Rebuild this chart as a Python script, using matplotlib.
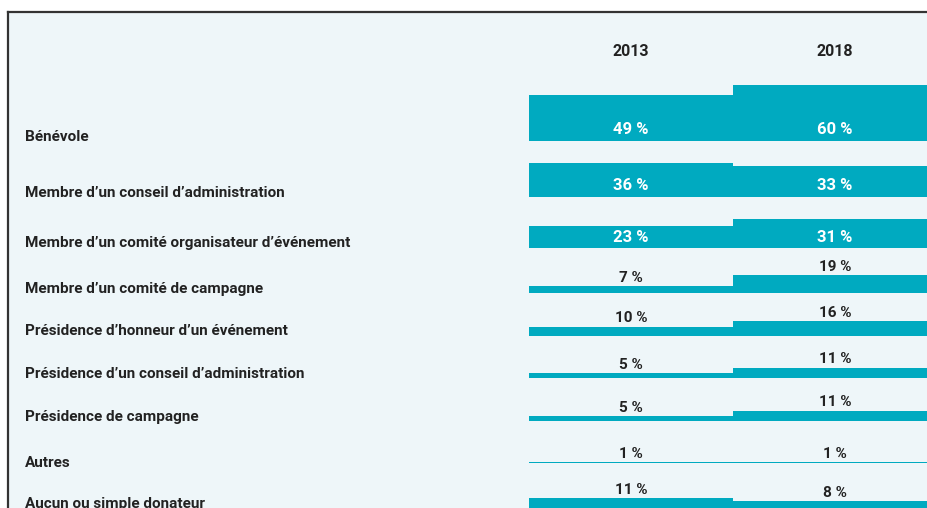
import matplotlib
matplotlib.use('Agg')
import matplotlib.pyplot as plt
from matplotlib.patches import Rectangle

# Données : part des répondants selon le rôle
roles = [
    "Bénévole",
    "Membre d’un conseil d’administration",
    "Membre d’un comité organisateur d’événement",
    "Membre d’un comité de campagne",
    "Présidence d’honneur d’un événement",
    "Présidence d’un conseil d’administration",
    "Présidence de campagne",
    "Autres",
    "Aucun ou simple donateur",
]
years = ["2013", "2018"]
vals_2013 = [49, 36, 23, 7, 10, 5, 5, 1, 11]
vals_2018 = [60, 33, 31, 19, 16, 11, 11, 1, 8]

# mise en page (en pixels)
row_base = [141, 197, 248, 293, 336, 378, 421, 463, 508.5]
label_y = [137, 193, 243, 289, 331, 374, 417, 463, 504]
col_left = [529, 733]
col_width = [204, 200]
px_per_pct = 0.935

teal = '#00aac0'
bg = '#eef6f9'
dark = '#222222'
plt.rcParams['font.family'] = ['Roboto', 'DejaVu Sans']

fig = plt.figure(figsize=(9.27, 5.08), dpi=100)
ax = fig.add_axes([0, 0, 1, 1])
ax.set_xlim(0, 927)
ax.set_ylim(508, 0)
ax.axis('off')

# fond et cadre
ax.add_patch(Rectangle((8.5, 11.5), 930, 510, facecolor=bg, edgecolor='none', zorder=0))
ax.plot([8.5, 927], [11.5, 11.5], color='#333333', lw=1.6, zorder=5)
ax.plot([8.5, 8.5], [11.5, 508], color='#333333', lw=1.6, zorder=5)

for j, yr in enumerate(years):
    ax.text(col_left[j] + 102, 51, yr, ha='center', va='center',
            fontsize=11.5, fontweight='bold', color=dark)

for i, role in enumerate(roles):
    base = row_base[i]
    ax.text(25, label_y[i], role, ha='left', va='center', fontsize=11,
            fontweight='bold', color=dark)
    for j, v in enumerate([vals_2013[i], vals_2018[i]]):
        h = max(v * px_per_pct, 1)
        ax.bar(col_left[j], -h, width=col_width[j], bottom=base, align='edge',
               color=teal, edgecolor='none', zorder=2)
        cx = col_left[j] + 102
        if v > 20:
            ax.text(cx, base - 11, f"{v} %", ha='center', va='center', fontsize=12,
                    fontweight='bold', color='white', zorder=3)
        else:
            ax.text(cx, base - h - 8.5, f"{v} %", ha='center', va='center', fontsize=11,
                    fontweight='bold', color=dark, zorder=3)

fig.savefig('out.png', dpi=100, facecolor='white')
